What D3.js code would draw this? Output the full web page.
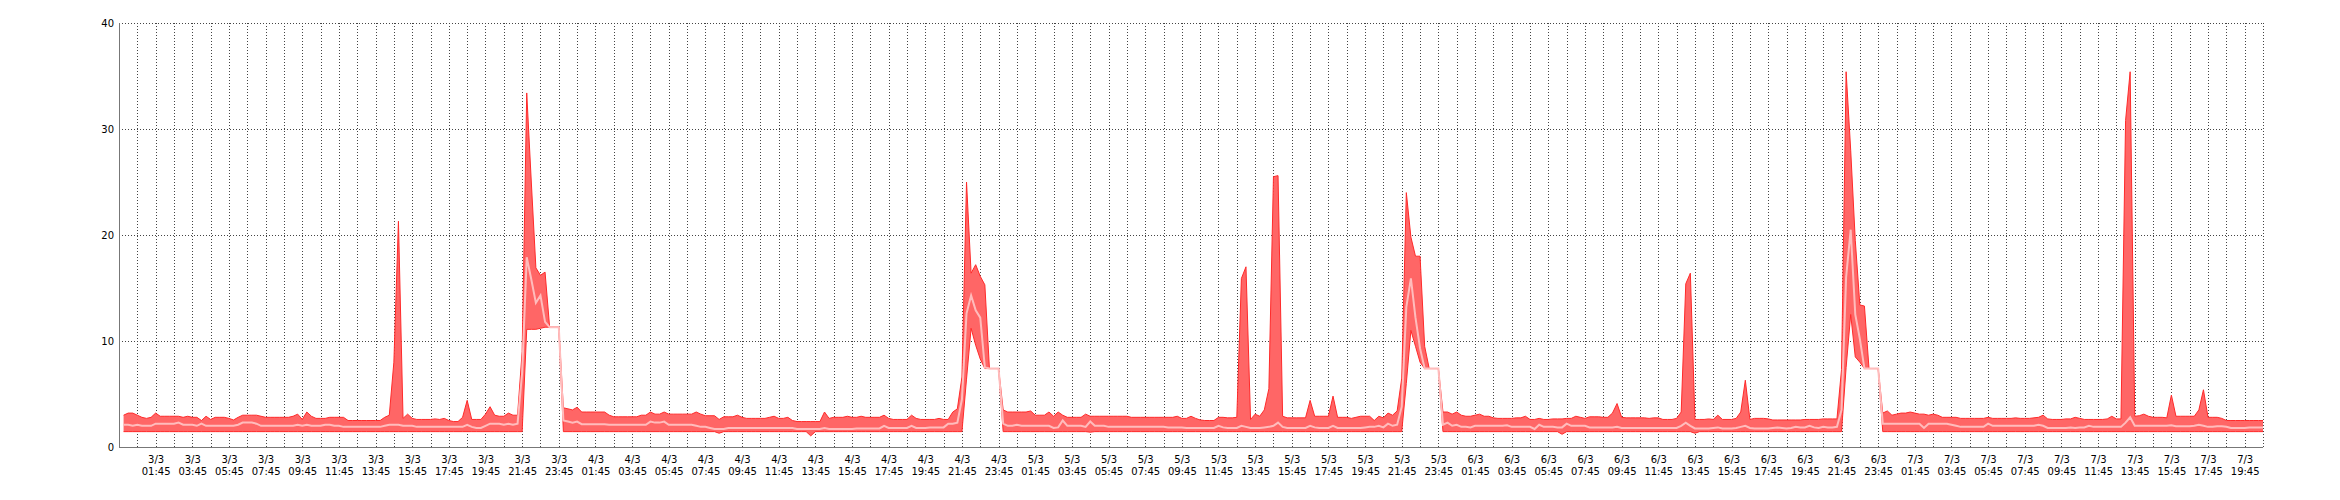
<!DOCTYPE html>
<html><head><meta charset="utf-8">
<script src="https://cdn.jsdelivr.net/npm/d3@7"></script>
<style>body{margin:0;background:#fff}svg{display:block}</style>
</head><body>
<svg id="chart" width="2340" height="500"></svg>
<script>
// ---- data (15-minute samples starting 3/3 00:00) ----
const startTime = new Date(2013, 2, 3, 0, 0);
const stepMinutes = 15;
const yTicks = [0, 10, 20, 30, 40];

const maxDay3 = [3.0,3.2,3.2,3.0, 2.8,2.7,2.8,3.2, 2.9,2.9,2.9,2.9, 2.9,2.8,2.9,2.8, 2.8,2.5,2.9,2.6, 2.8,2.8,2.8,2.7,
  2.55,2.8,3.0,3.0, 3.0,3.0,2.9,2.8, 2.8,2.8,2.8,2.8, 2.8,2.9,3.1,2.6, 3.3,2.9,2.7,2.7, 2.7,2.8,2.8,2.8,
  2.8,2.5,2.5,2.5, 2.5,2.5,2.5,2.5, 2.5,2.8,3.0,8.0, 21.3,2.7,3.1,2.7, 2.6,2.6,2.6,2.6, 2.65,2.6,2.7,2.5,
  2.4,2.4,2.8,4.4, 2.6,2.6,2.6,3.1, 3.8,3.0,2.9,2.9, 3.2,3.0,3.0,9.0, 33.4,25.0,16.9,16.2, 16.5,11.3,11.3,11.3];
const maxDay4 = [3.7,3.6,3.5,3.75, 3.3,3.3,3.3,3.3, 3.3,3.3,3.0,2.85, 2.85,2.85,2.85,2.85, 2.85,3.0,3.0,3.3, 3.1,3.1,3.3,3.1,
  3.1,3.1,3.1,3.1, 3.1,3.3,3.1,2.95, 2.95,2.95,2.6,2.85, 2.85,2.85,3.0,2.8, 2.7,2.7,2.7,2.7, 2.7,2.8,2.9,2.7,
  2.7,2.8,2.5,2.4, 2.4,2.4,2.4,2.4, 2.4,3.3,2.7,2.8, 2.8,2.8,2.9,2.8, 2.8,2.9,2.8,2.8, 2.8,2.8,3.0,2.7,
  2.6,2.6,2.6,2.6, 3.0,2.7,2.6,2.6, 2.6,2.6,2.7,2.6, 2.6,3.3,3.6,6.6, 25.0,16.4,17.2,16.1, 15.3,7.4,7.4,7.4];
const maxDay5 = [3.5,3.3,3.3,3.3, 3.3,3.3,3.4,3.0, 3.0,3.0,3.3,2.9, 3.3,3.0,2.8,2.8, 2.8,2.8,3.1,2.9, 2.9,2.9,2.9,2.9,
  2.9,2.9,2.9,2.9, 2.8,2.8,2.8,2.8, 2.8,2.8,2.8,2.8, 2.8,2.8,2.9,2.7, 2.7,2.9,2.7,2.55, 2.5,2.5,2.5,2.8,
  2.8,2.75,2.75,2.8, 15.9,17.0,2.6,3.1, 2.9,3.5,5.5,25.5, 25.6,2.9,2.75,2.75, 2.75,2.75,2.75,4.4, 2.9,2.9,2.9,2.9,
  4.8,2.8,2.8,2.8, 2.7,2.8,2.9,2.9, 2.9,2.5,2.9,2.75, 3.2,3.0,3.4,6.5, 24.0,19.8,18.0,18.0, 9.5,7.4,7.4,7.4];
const maxDay6 = [3.3,3.3,3.1,3.3, 3.0,2.9,2.9,3.0, 3.1,2.9,2.9,2.75, 2.7,2.7,2.7,2.7, 2.75,2.75,2.9,2.6, 2.6,2.7,2.6,2.6,
  2.65,2.65,2.65,2.7, 2.7,2.9,2.8,2.7, 2.85,2.85,2.85,2.8, 2.8,3.2,4.1,2.8, 2.75,2.75,2.75,2.75, 2.75,2.7,2.75,2.75,
  2.6,2.6,2.6,2.7, 3.3,15.4,16.4,2.6, 2.6,2.6,2.65,2.6, 3.0,2.6,2.6,2.6, 2.7,3.3,6.3,2.6, 2.7,2.7,2.7,2.65,
  2.55,2.55,2.55,2.55, 2.55,2.55,2.55,2.6, 2.6,2.6,2.6,2.65, 2.65,2.65,2.65,7.3, 35.4,28.0,19.5,13.4, 13.3,7.4,7.4,7.4];
const maxDay7 = [3.2,3.4,3.0,3.1, 3.2,3.2,3.3,3.2, 3.1,3.1,3.0,3.1, 3.0,2.8,2.8,2.8, 2.8,2.7,2.7,2.7, 2.7,2.7,2.7,2.8,
  2.7,2.7,2.7,2.7, 2.7,2.75,2.7,2.7, 2.7,2.75,2.8,3.0, 2.65,2.6,2.6,2.6, 2.65,2.65,2.8,2.7, 2.6,2.6,2.6,2.6,
  2.6,2.65,2.9,2.65, 2.65,30.8,35.4,2.9, 2.95,3.1,2.9,2.8, 2.8,2.8,2.75,4.9, 2.9,2.9,2.9,2.9, 2.9,3.5,5.4,2.8,
  2.8,2.8,2.7,2.5, 2.5,2.5,2.5,2.5, 2.5,2.5,2.5,2.5];

const avgDay3 = [2.1,2.1,2.0,2.1, 2.0,2.0,2.0,2.2, 2.2,2.2,2.2,2.2, 2.3,2.1,2.1,2.1, 2.0,2.2,2.0,2.0, 2.0,2.0,2.0,2.0,
  2.0,2.1,2.3,2.3, 2.3,2.2,2.0,2.0, 2.0,2.0,2.0,2.0, 2.0,2.0,2.1,2.0, 2.1,2.0,2.0,2.0, 2.1,2.1,2.0,2.0,
  1.9,1.9,1.9,1.9, 1.9,1.9,1.9,1.9, 1.9,2.0,2.1,2.1, 2.1,2.0,2.0,2.0, 1.9,1.9,1.9,1.9, 1.9,1.9,1.9,1.9,
  1.9,1.9,1.9,2.1, 1.9,1.8,1.8,2.0, 2.2,2.2,2.2,2.1, 2.2,2.1,2.2,7.0, 17.9,15.8,13.6,14.3, 11.8,11.3,11.3,11.3];
const avgDay4 = [2.5,2.4,2.3,2.4, 2.15,2.15,2.15,2.15, 2.15,2.15,2.1,2.1, 2.1,2.1,2.1,2.1, 2.1,2.1,2.1,2.4, 2.3,2.3,2.4,2.1,
  2.1,2.1,2.1,2.1, 2.1,2.0,1.9,1.9, 1.8,1.7,1.7,1.7, 1.8,1.8,1.8,1.8, 1.8,1.8,1.8,1.8, 1.8,1.8,1.8,1.8,
  1.8,1.8,1.8,1.7, 1.7,1.7,1.7,1.7, 1.7,1.8,1.7,1.7, 1.7,1.7,1.7,1.7, 1.75,1.75,1.75,1.75, 1.75,1.75,2.0,1.8,
  1.8,1.8,1.8,1.8, 2.0,1.8,1.8,1.8, 1.85,1.85,1.85,1.85, 2.2,2.2,2.3,4.5, 12.6,14.3,12.9,12.2, 7.5,7.4,7.4,7.4];
const avgDay5 = [2.2,2.0,2.0,2.1, 2.0,2.0,2.0,2.0, 2.0,2.0,2.0,1.8, 1.85,2.5,2.0,2.0, 2.0,2.0,1.9,2.4, 2.0,2.0,2.0,1.9,
  1.9,1.9,1.9,1.9, 1.9,1.9,1.9,1.9, 1.9,1.9,1.9,1.9, 1.85,1.85,1.85,1.85, 1.8,1.8,1.8,1.8, 1.8,1.8,1.8,2.0,
  1.85,1.8,1.8,1.8, 2.0,1.9,1.8,1.8, 1.8,1.85,1.9,2.0, 2.3,1.9,1.8,1.8, 1.8,1.8,1.8,2.0, 1.85,1.8,1.8,1.8,
  2.0,1.8,1.8,1.8, 1.8,1.8,1.8,1.85, 1.9,1.9,2.0,1.85, 2.2,2.0,2.1,3.8, 13.2,15.9,12.2,9.3, 7.4,7.4,7.4,7.4];
const avgDay6 = [2.1,2.3,2.0,2.1, 1.9,1.9,1.85,2.0, 2.0,2.0,2.0,2.0, 2.0,2.0,2.05,1.9, 1.9,1.9,1.9,1.9, 1.7,2.1,1.9,1.9,
  1.9,1.85,1.85,2.2, 2.0,2.0,2.0,2.0, 1.85,1.85,1.85,1.85, 1.85,1.85,1.9,1.8, 1.8,1.8,1.8,1.8, 1.8,1.8,1.8,1.8,
  1.8,1.8,1.8,1.8, 2.0,2.3,2.0,1.75, 1.75,1.75,1.75,1.8, 1.85,1.75,1.75,1.75, 1.8,1.9,2.0,1.8, 1.75,1.75,1.75,1.75,
  1.8,1.85,1.8,1.75, 1.8,1.9,1.85,1.85, 2.0,1.85,1.8,1.9, 1.85,1.85,1.9,3.5, 16.0,20.5,12.5,10.2, 7.4,7.4,7.4,7.4];
const avgDay7 = [2.2,2.2,2.2,2.2, 2.2,2.2,2.2,2.2, 2.2,1.8,2.2,2.2, 2.2,2.2,2.2,2.1, 2.0,1.9,1.9,1.9, 1.9,1.9,1.9,2.2,
  2.0,2.0,2.0,2.0, 2.0,2.0,2.0,2.0, 2.0,2.0,2.1,2.0, 1.8,1.8,1.8,1.8, 1.8,1.85,1.8,1.85, 1.85,2.0,1.9,1.9,
  1.9,1.9,1.9,1.9, 1.9,2.3,2.8,2.0, 2.0,2.0,2.0,2.0, 2.0,2.0,2.0,2.05, 1.95,1.95,1.95,1.95, 2.0,2.1,2.0,1.9,
  1.9,1.95,1.95,1.9, 1.8,1.8,1.8,1.8, 1.85,1.85,1.85,1.85];

const minDay3 = [1.45,1.45,1.45,1.45, 1.45,1.45,1.45,1.45, 1.45,1.45,1.45,1.45, 1.45,1.45,1.45,1.45, 1.45,1.45,1.45,1.45, 1.45,1.45,1.45,1.45,
  1.45,1.45,1.45,1.45, 1.45,1.45,1.45,1.45, 1.45,1.45,1.45,1.45, 1.45,1.45,1.45,1.45, 1.45,1.45,1.45,1.45, 1.45,1.45,1.45,1.45,
  1.45,1.45,1.45,1.45, 1.45,1.45,1.45,1.45, 1.45,1.45,1.45,1.45, 1.45,1.45,1.45,1.45, 1.45,1.45,1.45,1.45, 1.45,1.45,1.45,1.45,
  1.45,1.45,1.45,1.45, 1.45,1.45,1.45,1.45, 1.45,1.45,1.45,1.45, 1.45,1.45,1.45,1.45, 11.1,11.1,11.1,11.2, 11.3,11.3,11.3,11.3];
const minDay4 = [1.45,1.45,1.45,1.45, 1.45,1.45,1.45,1.45, 1.45,1.45,1.45,1.45, 1.45,1.45,1.45,1.45, 1.45,1.45,1.45,1.45, 1.45,1.45,1.45,1.45,
  1.45,1.45,1.45,1.45, 1.45,1.45,1.45,1.45, 1.45,1.45,1.3,1.45, 1.45,1.45,1.45,1.45, 1.45,1.45,1.45,1.45, 1.45,1.45,1.45,1.45,
  1.45,1.45,1.45,1.45, 1.45,1.45,1.05,1.45, 1.45,1.45,1.45,1.45, 1.45,1.45,1.45,1.45, 1.45,1.45,1.45,1.45, 1.45,1.45,1.45,1.45,
  1.45,1.45,1.45,1.45, 1.45,1.45,1.45,1.45, 1.45,1.45,1.45,1.45, 1.45,1.45,1.45,1.45, 6.4,11.2,9.6,8.3, 7.4,7.4,7.4,7.4];
const minDay5 = [1.45,1.45,1.45,1.45, 1.45,1.45,1.45,1.45, 1.45,1.45,1.45,1.45, 1.45,1.45,1.45,1.45, 1.45,1.45,1.45,1.4, 1.45,1.45,1.45,1.45,
  1.45,1.45,1.45,1.45, 1.45,1.45,1.45,1.45, 1.45,1.45,1.45,1.45, 1.45,1.45,1.45,1.45, 1.45,1.45,1.45,1.45, 1.45,1.45,1.45,1.45,
  1.45,1.45,1.45,1.45, 1.45,1.45,1.45,1.45, 1.45,1.45,1.45,1.45, 1.45,1.45,1.45,1.45, 1.45,1.45,1.45,1.45, 1.45,1.45,1.45,1.45,
  1.45,1.45,1.45,1.45, 1.45,1.45,1.45,1.45, 1.45,1.45,1.45,1.45, 1.45,1.45,1.45,1.45, 6.0,11.0,9.5,8.0, 7.4,7.4,7.4,7.4];
const minDay6 = [1.45,1.45,1.45,1.45, 1.45,1.45,1.45,1.45, 1.45,1.45,1.45,1.45, 1.45,1.45,1.45,1.45, 1.45,1.45,1.45,1.45, 1.45,1.45,1.45,1.45,
  1.45,1.45,1.2,1.45, 1.45,1.45,1.45,1.45, 1.45,1.45,1.45,1.45, 1.45,1.45,1.45,1.45, 1.45,1.45,1.45,1.45, 1.45,1.45,1.45,1.45,
  1.45,1.45,1.45,1.45, 1.45,1.45,1.45,1.3, 1.45,1.45,1.45,1.45, 1.45,1.45,1.45,1.45, 1.45,1.45,1.45,1.45, 1.45,1.45,1.45,1.45,
  1.45,1.45,1.45,1.45, 1.45,1.45,1.45,1.45, 1.45,1.45,1.45,1.45, 1.45,1.45,1.45,1.45, 7.5,12.5,8.5,8.0, 7.4,7.4,7.4,7.4];
const minDay7 = [1.45,1.45,1.45,1.45, 1.45,1.45,1.45,1.45, 1.45,1.45,1.45,1.45, 1.45,1.45,1.45,1.45, 1.45,1.45,1.45,1.45, 1.45,1.45,1.45,1.45,
  1.45,1.45,1.45,1.45, 1.45,1.45,1.45,1.45, 1.45,1.45,1.45,1.45, 1.45,1.45,1.45,1.45, 1.45,1.45,1.45,1.45, 1.45,1.45,1.45,1.45,
  1.45,1.45,1.45,1.45, 1.45,1.45,1.45,1.45, 1.45,1.45,1.45,1.45, 1.45,1.45,1.45,1.45, 1.45,1.45,1.45,1.45, 1.45,1.45,1.45,1.45,
  1.45,1.45,1.45,1.45, 1.45,1.45,1.45,1.45, 1.45,1.45,1.45,1.45];

const maxVals = [].concat(maxDay3, maxDay4, maxDay5, maxDay6, maxDay7);
const avgVals = [].concat(avgDay3, avgDay4, avgDay5, avgDay6, avgDay7);
const minVals = [].concat(minDay3, minDay4, minDay5, minDay6, minDay7);

const data = maxVals.map((v, i) => ({
  t: d3.timeMinute.offset(startTime, i * stepMinutes),
  max: v, avg: avgVals[i], min: minVals[i]
}));

// ---- layout ----
const plotLeft = 119, plotRight = 2263, plotTop = 23, plotBottom = 447;
const domainStart = new Date(2013, 2, 2, 23, 45);
const domainEnd = new Date(2013, 2, 7, 20, 45);

const x = d3.scaleTime().domain([domainStart, domainEnd]).range([plotLeft, plotRight]);
const y = d3.scaleLinear().domain([0, 40]).range([plotBottom, plotTop]);

const svg = d3.select("#chart");
const font = "'DejaVu Sans', Verdana, sans-serif";

// hourly vertical grid
const hourTicks = d3.range(1, 118).map(k => d3.timeHour.offset(domainStart, k));
const labelTicks = hourTicks.filter((d, i) => i % 2 === 1 && d < domainEnd);

const gx = svg.append("g").attr("transform", `translate(0,${plotBottom})`)
  .call(d3.axisBottom(x).tickValues(hourTicks).tickSize(-(plotBottom - plotTop)).tickFormat(""));
gx.select(".domain").remove();
gx.selectAll(".tick line").attr("stroke", "#444").attr("stroke-dasharray", "1,2")
  .attr("shape-rendering", "crispEdges");

// horizontal grid
const gy = svg.append("g").attr("transform", `translate(${plotLeft},0)`)
  .call(d3.axisLeft(y).tickValues(yTicks.filter(v => v > 0)).tickSize(-(plotRight - plotLeft)).tickFormat(""));
gy.select(".domain").remove();
gy.selectAll(".tick line").attr("stroke", "#444").attr("stroke-dasharray", "1,2")
  .attr("shape-rendering", "crispEdges");

// band (min..max)
const area = d3.area().x(d => x(d.t)).y0(d => y(d.min)).y1(d => y(d.max));
svg.append("path").datum(data).attr("d", area).attr("fill", "#ff6666");
svg.append("path").datum(data).attr("d", d3.line().x(d => x(d.t)).y(d => y(d.max)))
  .attr("fill", "none").attr("stroke", "#ff2a2a").attr("stroke-width", 1);
svg.append("path").datum(data).attr("d", d3.line().x(d => x(d.t)).y(d => y(d.min)))
  .attr("fill", "none").attr("stroke", "#ff2a2a").attr("stroke-width", 1);
// average line
svg.append("path").datum(data).attr("d", d3.line().x(d => x(d.t)).y(d => y(d.avg)))
  .attr("fill", "none").attr("stroke", "#ffbcbc").attr("stroke-width", 2);

// axes lines
svg.append("line").attr("x1", plotLeft + 0.5).attr("x2", plotLeft + 0.5).attr("y1", plotTop).attr("y2", plotBottom)
  .attr("stroke", "#777").attr("stroke-width", 1);
svg.append("line").attr("x1", plotLeft).attr("x2", plotRight).attr("y1", plotBottom + 0.5).attr("y2", plotBottom + 0.5)
  .attr("stroke", "#777").attr("stroke-width", 1);

// y labels
const yAxis = svg.append("g").attr("transform", `translate(${plotLeft},0)`)
  .call(d3.axisLeft(y).tickValues(yTicks).tickSize(0).tickPadding(5));
yAxis.select(".domain").remove();
yAxis.selectAll("text").attr("font-family", font).attr("font-size", 10).attr("fill", "#000");

// x labels (two lines)
const fmtDay = d3.timeFormat("%-d/%-m"), fmtTime = d3.timeFormat("%H:%M");
const xl = svg.append("g").attr("transform", `translate(0,${plotBottom})`)
  .call(d3.axisBottom(x).tickValues(labelTicks).tickSize(0).tickFormat(""));
xl.select(".domain").remove();
xl.selectAll(".tick").each(function(d) {
  const t = d3.select(this).append("text").attr("fill", "#000").attr("text-anchor", "middle")
    .attr("font-family", font).attr("font-size", 10);
  t.append("tspan").attr("x", 0).attr("y", 16).text(fmtDay(d));
  t.append("tspan").attr("x", 0).attr("y", 28).text(fmtTime(d));
});
</script>
</body></html>
